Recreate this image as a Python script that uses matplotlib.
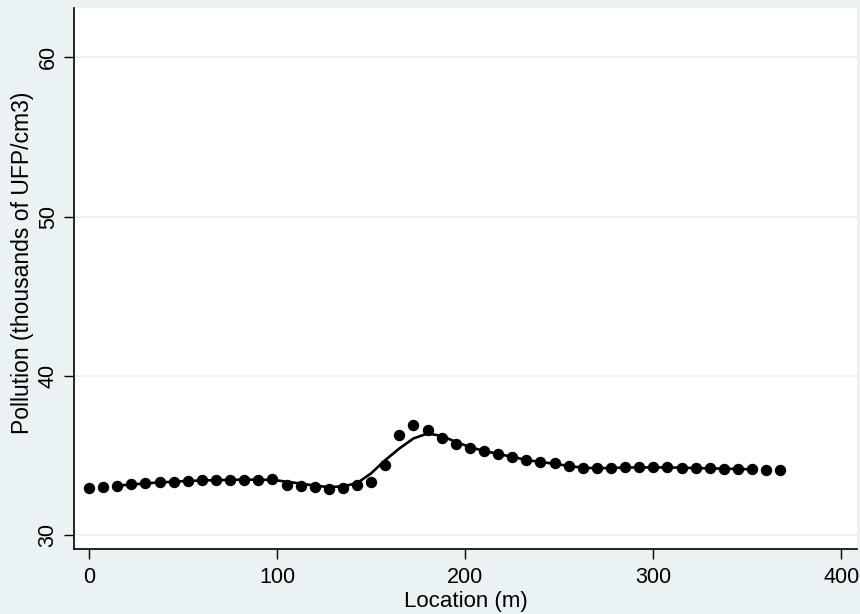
import numpy as np
import matplotlib.pyplot as plt
from matplotlib import font_manager

# observed means at each location (m)
location = [i * 7.5 for i in range(50)]
pollution = [
    32.92, 33.03, 33.09, 33.17, 33.23, 33.32, 33.34, 33.40, 33.42, 33.44,
    33.46, 33.48, 33.48, 33.52, 33.15, 33.07, 33.00, 32.90, 32.96, 33.13,
    33.34, 34.36, 36.26, 36.93, 36.62, 36.09, 35.74, 35.49, 35.26, 35.09,
    34.90, 34.70, 34.59, 34.49, 34.32, 34.18, 34.18, 34.20, 34.24, 34.24,
    34.24, 34.24, 34.22, 34.20, 34.18, 34.16, 34.14, 34.12, 34.10, 34.08,
]

# smoothed fit, drawn from 15 m to 352.5 m
fit_location = location[2:48]
fit_pollution = [
    33.09, 33.17, 33.23, 33.30, 33.34, 33.39, 33.42, 33.44, 33.46, 33.47,
    33.47, 33.45, 33.35, 33.22, 33.10, 33.00, 33.05, 33.25, 33.87, 34.70,
    35.43, 36.06, 36.37, 36.22, 35.84, 35.52, 35.27, 35.09, 34.90, 34.71,
    34.58, 34.47, 34.33, 34.22, 34.19, 34.20, 34.23, 34.24, 34.24, 34.24,
    34.22, 34.20, 34.18, 34.16, 34.14, 34.12,
]

xticks = [0, 100, 200, 300, 400]
yticks = [30, 40, 50, 60]

installed = {f.name for f in font_manager.fontManager.ttflist}
family = "Liberation Sans Narrow" if "Liberation Sans Narrow" in installed else "Liberation Sans"
plt.rcParams["font.family"] = [family, "DejaVu Sans"]

bg = "#eaf2f3"
fig = plt.figure(figsize=(8.6, 6.14), dpi=100, facecolor=bg)
ax = fig.add_axes([0.086, 0.106, 0.911, 0.881])
ax.set_facecolor("white")

ax.plot(fit_location, fit_pollution, color="black", lw=1.9, zorder=3)
ax.plot(location, pollution, "o", color="black", ms=7.2, zorder=4)

ax.set_xlim(-8, 408.5)
ax.set_ylim(29.12, 63.1)
ax.set_xticks(xticks)
ax.set_yticks(yticks)
ax.yaxis.grid(True, color=bg, lw=1.2)
ax.set_axisbelow(True)

for side in ("top", "right"):
    ax.spines[side].set_visible(False)
for side in ("left", "bottom"):
    ax.spines[side].set_linewidth(1.2)

ax.tick_params(direction="out", length=7, width=1, labelsize=15.5)
ax.tick_params(axis="x", pad=6)
ax.tick_params(axis="y", pad=4)
for lbl in ax.get_yticklabels():
    lbl.set_rotation(90)
    lbl.set_va("center")

ax.set_xlabel("Location (m)", fontsize=16, labelpad=2)
ax.set_ylabel("Pollution (thousands of UFP/cm3)", fontsize=16.5)
ax.yaxis.set_label_coords(-0.051, 0.529)

fig.savefig("out.png", dpi=100, facecolor=bg)
